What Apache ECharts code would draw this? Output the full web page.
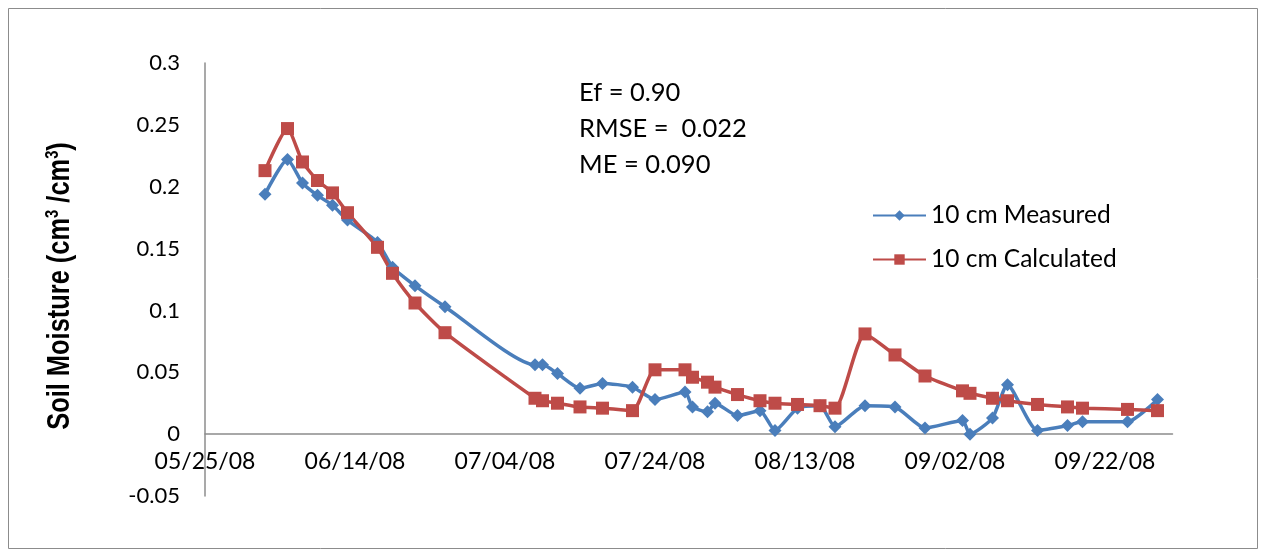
<!DOCTYPE html>
<html>
<head>
<meta charset="utf-8">
<script src="https://cdn.jsdelivr.net/npm/echarts@6/dist/echarts.min.js"></script>
<style>
html,body{margin:0;padding:0;background:#fff;}
#chart{width:1262px;height:550px;}
</style>
</head>
<body>
<div id="chart"></div>
<script>
// ---- data ----
const startDate = '2008-05-25';
const endDate = '2008-10-01';
const dates = ['2008-06-02','2008-06-05','2008-06-07','2008-06-09','2008-06-11','2008-06-13','2008-06-17','2008-06-19','2008-06-22','2008-06-26',
  '2008-07-08','2008-07-09','2008-07-11','2008-07-14','2008-07-17','2008-07-21','2008-07-24','2008-07-28','2008-07-29','2008-07-31',
  '2008-08-01','2008-08-04','2008-08-07','2008-08-09','2008-08-12','2008-08-15','2008-08-17','2008-08-21','2008-08-25','2008-08-29',
  '2008-09-03','2008-09-04','2008-09-07','2008-09-09','2008-09-13','2008-09-17','2008-09-19','2008-09-25','2008-09-29'];
const measured = [0.194,0.222,0.203,0.193,0.185,0.173,0.155,0.135,0.120,0.103,
  0.056,0.056,0.049,0.037,0.041,0.038,0.028,0.034,0.022,0.018,
  0.025,0.015,0.019,0.003,0.021,0.023,0.006,0.023,0.022,0.005,
  0.011,0.000,0.013,0.040,0.003,0.007,0.010,0.010,0.028];
const calculated = [0.213,0.247,0.220,0.205,0.195,0.179,0.151,0.130,0.106,0.082,
  0.029,0.027,0.025,0.022,0.021,0.019,0.052,0.052,0.046,0.042,
  0.038,0.032,0.027,0.025,0.024,0.023,0.021,0.081,0.064,0.047,
  0.035,0.033,0.029,0.027,0.024,0.022,0.021,0.020,0.019];
const seriesNames = ['10 cm Measured','10 cm Calculated'];
const statsLines = ['Ef = 0.90','RMSE =  0.022','ME = 0.090'];
const yTitle = 'Soil Moisture (cm{sup|3} /cm{sup|3})';

// ---- helpers ----
const DAY = 86400000;
const t0 = Date.parse(startDate + 'T00:00:00Z');
const dayOf = s => Math.round((Date.parse(s + 'T00:00:00Z') - t0) / DAY);
const fmtDay = d => {
  const dt = new Date(t0 + d * DAY);
  const mm = String(dt.getUTCMonth() + 1).padStart(2, '0');
  const dd = String(dt.getUTCDate()).padStart(2, '0');
  const yy = String(dt.getUTCFullYear() % 100).padStart(2, '0');
  return mm + '/' + dd + '/' + yy;
};
const xs = dates.map(dayOf);
const FONT = 'Lato';
const chart = echarts.init(document.getElementById('chart'));
chart.setOption({
  animation: false,
  backgroundColor: '#fff',
  grid: { left: 205, right: 1262 - 1172.5, top: 63, bottom: 54, outerBoundsMode: 'none' },
  xAxis: {
    type: 'value', min: 0, max: dayOf(endDate), interval: 20,
    axisLine: { onZero: true, lineStyle: { color: '#8c8c8c', width: 1.5 } },
    axisTick: { show: false },
    splitLine: { show: false },
    axisLabel: { formatter: v => fmtDay(v), fontFamily: FONT, fontSize: 23, color: '#000', margin: -46, showMaxLabel: false }
  },
  yAxis: {
    type: 'value', min: -0.05, max: 0.3, interval: 0.05,
    axisLine: { show: true, lineStyle: { color: '#8c8c8c', width: 1.5 } },
    axisTick: { show: false },
    splitLine: { show: false },
    axisLabel: { fontFamily: FONT, fontSize: 22, color: '#000', margin: 25 }
  },
  legend: {
    orient: 'vertical', left: 872, top: 203, padding: 0, itemWidth: 53, itemHeight: 13, itemGap: 19,
    textStyle: { fontFamily: FONT, fontSize: 24.5, color: '#000' },
    data: seriesNames
  },
  series: [
    { name: seriesNames[0], type: 'line', smooth: 0.2, symbol: 'diamond', symbolSize: 13,
      data: xs.map((x, i) => [x, measured[i]]),
      lineStyle: { color: '#4a7ebb', width: 3.5 }, itemStyle: { color: '#4a7ebb' } },
    { name: seriesNames[1], type: 'line', smooth: 0.2, symbol: 'rect', symbolSize: 13,
      data: xs.map((x, i) => [x, calculated[i]]),
      lineStyle: { color: '#be4b48', width: 3.5 }, itemStyle: { color: '#be4b48' } }
  ],
  graphic: [
    { type: 'rect', shape: { x: 8.5, y: 8.5, width: 1249, height: 540 }, style: { fill: 'none', stroke: '#8c8c8c', lineWidth: 1 }, silent: true },
    ...statsLines.map((t, i) => ({ type: 'text', x: 579, y: 93 + i * 36,
      style: { text: t, fontFamily: FONT, fontSize: 25.5, fill: '#000', verticalAlign: 'middle' } })),
    { type: 'text', x: 60, y: 286, rotation: Math.PI / 2, scaleX: 0.82,
      style: { text: yTitle, fontFamily: 'Liberation Sans', fontSize: 31, fontWeight: 'bold', fill: '#000',
        align: 'center', verticalAlign: 'middle',
        rich: { sup: { fontFamily: 'Liberation Sans', fontSize: 18, fontWeight: 'bold', fill: '#000', verticalAlign: 'top' } } } }
  ]
});
</script>
</body>
</html>
